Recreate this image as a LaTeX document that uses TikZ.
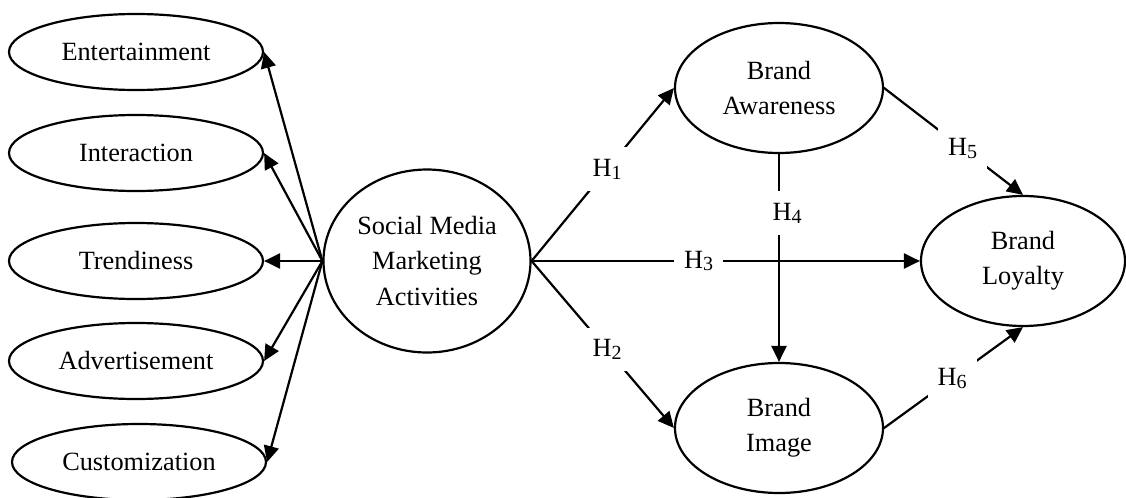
\documentclass[tikz,border=0pt]{standalone}
\usepackage{fontspec}
\setmainfont{Liberation Serif}
\usetikzlibrary{shapes.geometric,arrows.meta}
\newcommand{\hlabel}[1]{H\raisebox{-1.3pt}{\fontsize{10}{12}\selectfont#1}}
\begin{document}
\begin{tikzpicture}[line join=round, line cap=round, >={Triangle[length=8pt,width=7.5pt]}, line width=1.1pt, x=0.5pt, y=-0.5pt]
	\tikzset{every node/.style={font=\fontsize{13.15}{17.7}\selectfont}}
	\tikzset{dim/.style={draw, ellipse, inner sep=0pt, minimum width=127pt, minimum height=38pt},
		latent/.style={draw, ellipse, align=center, inner sep=0pt, minimum width=104pt, minimum height=65pt},
		hyp/.style={fill=white, inner xsep=5pt, inner ysep=6pt}}
	\useasboundingbox (0,0) rectangle (1126,498);
	% dimensions of social media marketing
	\node[dim] (ent) at (136,52) {Entertainment};
	\node[dim] (int) at (136,153) {Interaction};
	\node[dim] (tre) at (136,261) {Trendiness};
	\node[dim] (adv) at (136,361) {Advertisement};
	\node[dim] (cus) at (139,462) {Customization};
	\node[latent, minimum width=103.5pt, minimum height=91.5pt] (smma) at (427,261) {Social Media\\Marketing\\Activities};
	% brand constructs
	\node[latent] (ba) at (779,88) {Brand\\Awareness};
	\node[latent] (bi) at (779,428) {Brand\\Image};
	\node[latent, minimum width=102pt] (bl) at (1023,261) {Brand\\Loyalty};
	\foreach \n in {ent,int,tre,adv,cus}
		\draw[->] (smma.west) -- (\n.east);
	% hypotheses
	\draw[->] (smma.east) -- node[hyp, pos=0.53] {\hlabel{1}} (ba.west);
	\draw[->] (smma.east) -- node[hyp, pos=0.53] {\hlabel{2}} (bi.west);
	\draw[->] (smma.east) -- node[hyp, pos=0.43] {\hlabel{3}} (bl.west);
	\draw[->] (ba.south) -- node[hyp, pos=0.285, xshift=4pt] {\hlabel{4}} (bi.north);
	\draw[->] (ba.east) -- node[hyp, pos=0.565] {\hlabel{5}} (bl.north);
	\draw[->] (bi.east) -- node[hyp, pos=0.49] {\hlabel{6}} (bl.south);
\end{tikzpicture}
\end{document}
